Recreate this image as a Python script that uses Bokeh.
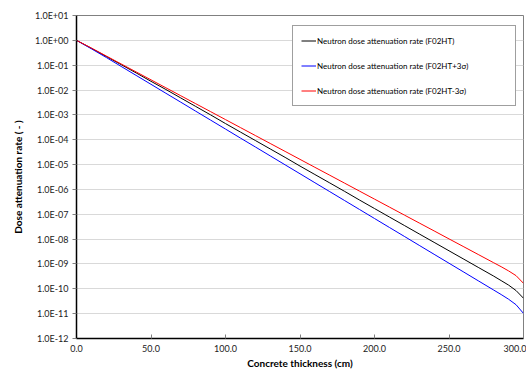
from bokeh.plotting import figure
from bokeh.models import (FixedTicker, CustomJSTickFormatter, NumeralTickFormatter,
                          Legend, LegendItem, Range1d)
from bokeh.embed import file_html
from bokeh.resources import INLINE

thickness = [0, 10, 20, 30, 40, 50, 60, 70, 80, 90, 100, 110, 120, 130, 140, 150,
             160, 170, 180, 190, 200, 210, 220, 230, 240, 250, 260, 270, 280, 285, 290, 295, 300]

rate_f02ht = [1.0, 0.479, 0.224, 0.105, 0.049, 2.24e-2, 1.05e-2, 4.79e-3, 2.19e-3, 1.0e-3,
              4.47e-4, 2.04e-4, 9.33e-5, 4.27e-5, 1.95e-5, 8.71e-6, 3.98e-6, 1.82e-6, 8.32e-7,
              3.72e-7, 1.70e-7, 7.76e-8, 3.55e-8, 1.62e-8, 7.41e-9, 3.39e-9, 1.55e-9, 7.08e-10,
              3.24e-10, 2.14e-10, 1.41e-10, 8.51e-11, 4.17e-11]

rate_plus3s = [1.0, 0.457, 0.204, 0.0891, 0.0389, 0.0170, 7.41e-3, 3.24e-3, 1.41e-3, 6.17e-4,
               2.69e-4, 1.17e-4, 5.13e-5, 2.24e-5, 9.77e-6, 4.27e-6, 1.86e-6, 8.13e-7, 3.55e-7,
               1.55e-7, 6.76e-8, 2.95e-8, 1.29e-8, 5.62e-9, 2.45e-9, 1.07e-9, 4.68e-10, 2.04e-10,
               8.91e-11, 5.89e-11, 3.80e-11, 2.29e-11, 1.02e-11]

rate_minus3s = [1.0, 0.490, 0.234, 0.112, 0.0537, 0.0257, 0.0123, 5.89e-3, 2.82e-3, 1.35e-3,
                6.46e-4, 3.09e-4, 1.48e-4, 7.08e-5, 3.39e-5, 1.62e-5, 7.76e-6, 3.72e-6, 1.78e-6,
                8.51e-7, 4.07e-7, 1.95e-7, 9.33e-8, 4.47e-8, 2.14e-8, 1.02e-8, 4.90e-9, 2.34e-9,
                1.12e-9, 7.76e-10, 5.25e-10, 3.39e-10, 1.66e-10]

x_ticks = [0, 50, 100, 150, 200, 250, 300]
y_ticks = [1e-12, 1e-11, 1e-10, 1e-9, 1e-8, 1e-7, 1e-6, 1e-5, 1e-4, 1e-3, 1e-2, 1e-1, 1e0, 1e1]

labels = ["Neutron dose attenuation rate (F02HT)",
          "Neutron dose attenuation rate (F02HT+3σ)",
          "Neutron dose attenuation rate (F02HT-3σ)"]

FONT = "Lato"

p = figure(width=526, height=372, y_axis_type="log", output_backend="svg",
           toolbar_location=None, x_range=Range1d(0, 300), y_range=Range1d(1e-12, 1e1),
           min_border_left=76, min_border_right=3, min_border_top=15, min_border_bottom=34)

r1 = p.line(thickness, rate_f02ht, line_color="#000000", line_width=1)
r2 = p.line(thickness, rate_plus3s, line_color="#0000ff", line_width=1)
r3 = p.line(thickness, rate_minus3s, line_color="#ff0000", line_width=1)

p.xaxis.ticker = FixedTicker(ticks=x_ticks)
p.xaxis.formatter = NumeralTickFormatter(format="0.0")
p.yaxis.ticker = FixedTicker(ticks=y_ticks)
p.yaxis.formatter = CustomJSTickFormatter(code="""
const e = Math.round(Math.log10(tick));
const s = e < 0 ? "-" : "+";
const a = Math.abs(e);
return "1.0E" + s + (a < 10 ? "0" + a : "" + a);
""")

for ax in (p.xaxis[0], p.yaxis[0]):
    ax.axis_line_color = "#000000"
    ax.axis_line_width = 1.5
    ax.major_label_text_font = FONT
    ax.major_label_text_font_size = "9px"
    ax.major_label_text_color = "#222222"
    ax.axis_label_text_font = FONT
    ax.axis_label_text_font_size = "10px"
    ax.axis_label_text_font_style = "bold"
    ax.axis_label_text_color = "#000000"
    ax.minor_tick_line_color = None
    ax.major_tick_line_color = "#808080"

p.xaxis.major_tick_in = 4
p.xaxis.major_tick_out = 0
p.xaxis.major_label_standoff = 6
p.xaxis.axis_label = "Concrete thickness (cm)"
p.xaxis.axis_label_standoff = 2

p.yaxis.major_tick_in = 0
p.yaxis.major_tick_out = 4
p.yaxis.major_label_standoff = 4
p.yaxis.axis_label = "Dose attenuation rate ( - )"
p.yaxis.axis_label_standoff = 8

p.xgrid.grid_line_color = None
p.ygrid.grid_line_color = "#d9d9d9"
p.ygrid.grid_line_width = 1

p.outline_line_color = "#808080"
p.outline_line_width = 1
p.background_fill_color = "white"
p.border_fill_color = "white"

legend = Legend(items=[LegendItem(label=labels[0], renderers=[r1]),
                       LegendItem(label=labels[1], renderers=[r2]),
                       LegendItem(label=labels[2], renderers=[r3])],
                location=(216, 232), orientation="vertical")
legend.label_text_font = FONT
legend.label_text_font_size = "8px"
legend.label_text_color = "#000000"
legend.glyph_width = 15
legend.glyph_height = 13
legend.label_height = 13
legend.label_standoff = 1
legend.spacing = 12
legend.padding = 8
legend.label_width = 190
legend.border_line_color = "#404040"
legend.border_line_width = 1
legend.background_fill_alpha = 1.0
legend.background_fill_color = "white"
p.add_layout(legend, "center")

open("out.html", "w").write(file_html(p, INLINE))
